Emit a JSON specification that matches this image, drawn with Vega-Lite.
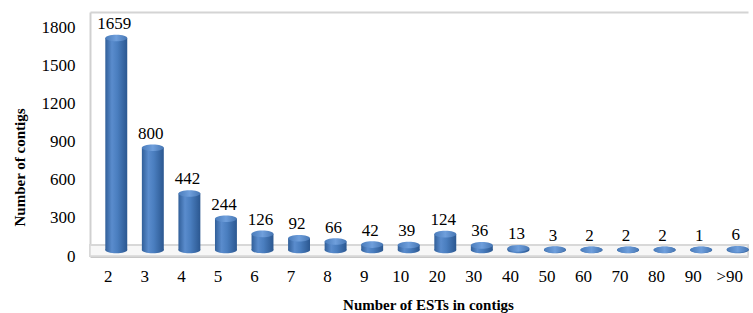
{
  "$schema": "https://vega.github.io/schema/vega-lite/v6.json",
  "width": 658,
  "height": 244,
  "autosize": {"type": "none"},
  "padding": {"left": 90, "top": 12, "right": 5, "bottom": 57},
  "background": "white",
  "config": {"view": {"stroke": null}, "font": "Liberation Serif, Times New Roman, serif"},
  "data": {
    "values": [
      {"ests": "2", "contigs": 1659},
      {"ests": "3", "contigs": 800},
      {"ests": "4", "contigs": 442},
      {"ests": "5", "contigs": 244},
      {"ests": "6", "contigs": 126},
      {"ests": "7", "contigs": 92},
      {"ests": "8", "contigs": 66},
      {"ests": "9", "contigs": 42},
      {"ests": "10", "contigs": 39},
      {"ests": "20", "contigs": 124},
      {"ests": "30", "contigs": 36},
      {"ests": "40", "contigs": 13},
      {"ests": "50", "contigs": 3},
      {"ests": "60", "contigs": 2},
      {"ests": "70", "contigs": 2},
      {"ests": "80", "contigs": 2},
      {"ests": "90", "contigs": 1},
      {"ests": ">90", "contigs": 6}
    ]
  },
  "resolve": {"scale": {"y": "independent"}, "axis": {"x": "independent", "y": "independent"}},
  "layer": [
    {
      "mark": {"type": "rect", "fill": "#f7f7f7", "stroke": "#d8d8d8", "strokeWidth": 1.5},
      "encoding": {
        "y": {
          "datum": 0,
          "type": "quantitative",
          "scale": {"domain": [0, 1926], "nice": false, "zero": true},
          "axis": {
            "values": [0, 300, 600, 900, 1200, 1500, 1800],
            "format": "d",
            "grid": false,
            "ticks": false,
            "domain": true,
            "domainColor": "#d0d0d0",
            "domainWidth": 2,
            "labelFont": "Liberation Serif, Times New Roman, serif",
            "labelFontSize": 17,
            "labelColor": "#000000",
            "labelPadding": 15,
            "title": "Number  of contigs",
            "titleFont": "Liberation Serif, Times New Roman, serif",
            "titleFontSize": 15,
            "titleFontWeight": "bold",
            "titleColor": "#000000",
            "titleX": -66,
            "titleY": 155,
            "titleBaseline": "alphabetic"
          }
        },
        "y2": {"datum": 85}
      }
    },
    {
      "mark": {
        "type": "bar",
        "xOffset": 8,
        "width": {"band": 0.6},
        "fill": {
          "gradient": "linear",
          "x1": 0, "y1": 0, "x2": 1, "y2": 0,
          "stops": [
            {"offset": 0, "color": "#315f99"},
            {"offset": 0.3, "color": "#5a8ccd"},
            {"offset": 0.55, "color": "#4a7ebf"},
            {"offset": 1, "color": "#2b5790"}
          ]
        }
      },
      "encoding": {
        "x": {
          "field": "ests",
          "type": "nominal",
          "sort": null,
          "scale": {"paddingInner": 0, "paddingOuter": 0},
          "axis": {
            "orient": "bottom",
            "labelAngle": 0,
            "ticks": false,
            "domain": true,
            "domainColor": "#c8c8c8",
            "domainWidth": 3,
            "labelFont": "Liberation Serif, Times New Roman, serif",
            "labelFontSize": 17,
            "labelColor": "#000000",
            "labelPadding": 12,
            "title": "Number  of ESTs in contigs",
            "titleFont": "Liberation Serif, Times New Roman, serif",
            "titleFontSize": 15,
            "titleFontWeight": "bold",
            "titleColor": "#000000",
            "titleX": 338,
            "titleY": 53,
            "titleBaseline": "alphabetic"
          }
        },
        "y": {
          "field": "contigs",
          "type": "quantitative",
          "scale": {"domain": [-47, 1862], "nice": false, "zero": false},
          "axis": null
        },
        "y2": {"datum": 0}
      }
    },
    {
      "mark": {
        "type": "point",
        "filled": true,
        "opacity": 1,
        "xOffset": 8,
        "size": 484,
        "shape": "M-1,0A1,0.3,0,1,0,1,0A1,0.3,0,1,0,-1,0Z",
        "fill": {
          "gradient": "linear",
          "x1": 0, "y1": 0, "x2": 1, "y2": 0,
          "stops": [
            {"offset": 0, "color": "#315f99"},
            {"offset": 0.3, "color": "#5a8ccd"},
            {"offset": 0.55, "color": "#4a7ebf"},
            {"offset": 1, "color": "#2b5790"}
          ]
        }
      },
      "encoding": {
        "x": {"field": "ests", "type": "nominal", "sort": null, "axis": null},
        "y": {
          "datum": 0,
          "type": "quantitative",
          "scale": {"domain": [-47, 1862], "nice": false, "zero": false},
          "axis": null
        }
      }
    },
    {
      "mark": {
        "type": "point",
        "filled": true,
        "opacity": 1,
        "xOffset": 8,
        "size": 484,
        "shape": "M-1,0A1,0.3,0,1,0,1,0A1,0.3,0,1,0,-1,0Z",
        "fill": {
          "gradient": "linear",
          "x1": 0, "y1": 0, "x2": 1, "y2": 0,
          "stops": [
            {"offset": 0, "color": "#4a7cbb"},
            {"offset": 0.5, "color": "#6f9fdc"},
            {"offset": 1, "color": "#4676b3"}
          ]
        }
      },
      "encoding": {
        "x": {"field": "ests", "type": "nominal", "sort": null, "axis": null},
        "y": {
          "field": "contigs",
          "type": "quantitative",
          "scale": {"domain": [-47, 1862], "nice": false, "zero": false},
          "axis": null
        }
      }
    },
    {
      "mark": {
        "type": "text",
        "dx": 6,
        "dy": -14,
        "baseline": "middle",
        "font": "Liberation Serif, Times New Roman, serif",
        "fontSize": 17,
        "color": "#000000"
      },
      "encoding": {
        "x": {
          "field": "ests",
          "type": "nominal",
          "sort": null,
          "axis": {
            "orient": "top",
            "labels": false,
            "ticks": false,
            "title": null,
            "domain": true,
            "domainColor": "#d4d4d4",
            "domainWidth": 2
          }
        },
        "y": {
          "field": "contigs",
          "type": "quantitative",
          "scale": {"domain": [-47, 1862], "nice": false, "zero": false},
          "axis": null
        },
        "text": {"field": "contigs", "type": "quantitative"}
      }
    }
  ]
}
